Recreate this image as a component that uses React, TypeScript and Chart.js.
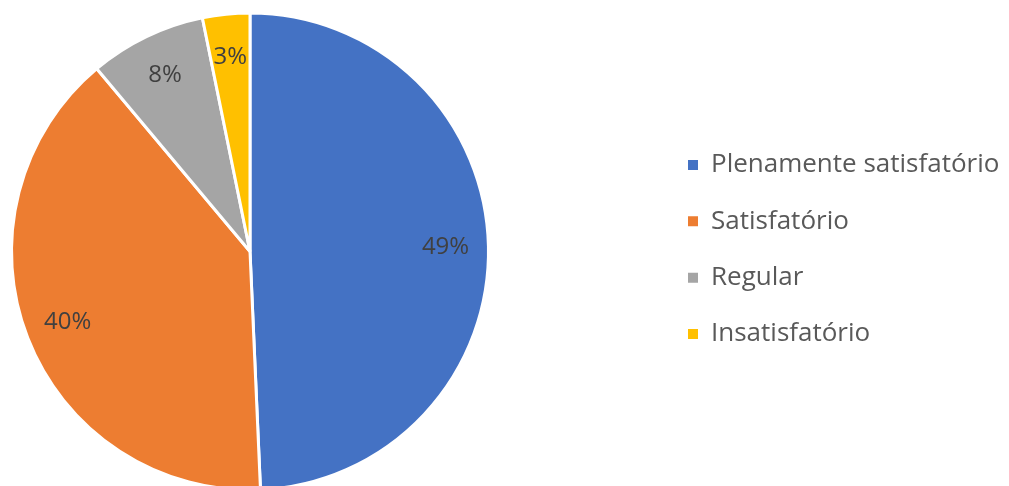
import React, { useEffect, useRef } from "react";
import { Chart, registerables } from "chart.js";

Chart.register(...registerables);

const categories = ["Plenamente satisfatório", "Satisfatório", "Regular", "Insatisfatório"];
const shares = [49.3, 39.6, 7.9, 3.2];
const colors = ["#4472C4", "#ED7D31", "#A5A5A5", "#FFC000"];

const W = 1009;
const H = 486;
const CANVAS_H = 500;
const LEGEND_BOX_X = 688;
const LEGEND_PAD = 30.3;
const LABEL_RATIO = 0.82;

const legendPlace = {
  id: "legendPlace",
  afterLayout(chart: any) {
    const lg = chart.legend;
    if (!lg) return;
    lg.left = LEGEND_BOX_X - LEGEND_PAD;
    lg.right = W;
    lg.width = lg.right - lg.left;
    lg.top -= 2;
    lg.bottom -= 2;
  },
};

const pctLabels = {
  id: "pctLabels",
  afterDatasetsDraw(chart: any) {
    const ctx = chart.ctx;
    const meta = chart.getDatasetMeta(0);
    const data = chart.data.datasets[0].data as number[];
    const total = data.reduce((a, b) => a + b, 0);
    ctx.save();
    ctx.font = "24px 'Open Sans', sans-serif";
    ctx.fillStyle = "#404040";
    ctx.textAlign = "center";
    ctx.textBaseline = "middle";
    meta.data.forEach((arc: any, i: number) => {
      const { x, y, startAngle, endAngle, outerRadius } = arc.getProps(
        ["x", "y", "startAngle", "endAngle", "outerRadius"],
        true
      );
      const mid = (startAngle + endAngle) / 2;
      const r = outerRadius * LABEL_RATIO;
      const txt = Math.round((data[i] / total) * 100) + "%";
      ctx.fillText(txt, x + Math.cos(mid) * r, y + Math.sin(mid) * r);
    });
    ctx.restore();
  },
};

export default function App() {
  const ref = useRef<HTMLCanvasElement>(null);
  useEffect(() => {
    if (!ref.current) return;
    const chart = new Chart(ref.current, {
      type: "pie",
      data: {
        labels: categories,
        datasets: [
          {
            data: shares,
            backgroundColor: colors,
            borderColor: "#ffffff",
            borderWidth: 3,
          },
        ],
      },
      options: {
        responsive: false,
        animation: false,
        layout: { padding: { left: 10, top: 10, right: W - 490 - 100, bottom: CANVAS_H - 493 } },
        plugins: {
          tooltip: { enabled: false },
          legend: {
            position: "right",
            maxWidth: 100,
            labels: {
              boxWidth: 10,
              boxHeight: 10,
              padding: LEGEND_PAD,
              color: "#595959",
              font: { family: "'Open Sans', sans-serif", size: 26 },
              generateLabels(chart: any) {
                const ds = chart.data.datasets[0];
                return (chart.data.labels as string[]).map((text, i) => ({
                  text,
                  fillStyle: (ds.backgroundColor as string[])[i],
                  strokeStyle: (ds.backgroundColor as string[])[i],
                  lineWidth: 0,
                  fontColor: "#595959",
                  hidden: false,
                  index: i,
                }));
              },
            },
          },
        },
      },
      plugins: [legendPlace, pctLabels],
    });
    return () => chart.destroy();
  }, []);
  return (
    <div
      style={{
        position: "fixed",
        left: 0,
        top: 0,
        width: W,
        height: H,
        overflow: "hidden",
        background: "#fff",
      }}
    >
      <canvas ref={ref} width={W} height={CANVAS_H} style={{ display: "block" }} />
    </div>
  );
}
